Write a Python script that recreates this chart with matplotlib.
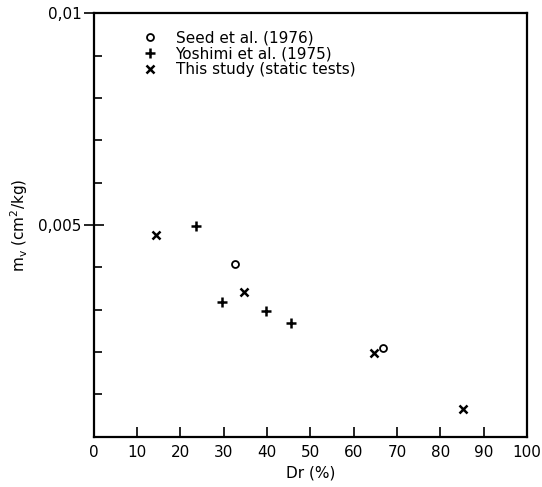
import matplotlib
matplotlib.use("Agg")
import matplotlib.pyplot as plt
from matplotlib.ticker import FixedLocator

# Seed et al. (1976)
seed_dr = [32.5, 66.9]
seed_mv = [0.00408, 0.00209]
# Yoshimi et al. (1975)
yosh_dr = [23.5, 29.5, 39.7, 45.5]
yosh_mv = [0.00498, 0.00319, 0.00298, 0.00268]
# This study (static tests)
this_dr = [14.3, 34.6, 64.6, 85.2]
this_mv = [0.00477, 0.00343, 0.00197, 0.00066]

x_ticks = list(range(0, 101, 10))
y_major = [0.005, 0.01]
y_major_labels = ["0,005", "0,01"]

fig = plt.figure(figsize=(5.42, 4.87), dpi=100)
ax = fig.add_axes([0.173, 0.103, 0.799, 0.870])

ax.plot(seed_dr, seed_mv, linestyle="none", marker="o", ms=5, mfc="white",
        mec="black", mew=1.3, label="Seed et al. (1976)")
ax.plot(yosh_dr, yosh_mv, linestyle="none", marker="+", ms=7, color="black",
        mew=1.8, label="Yoshimi et al. (1975)")
ax.plot(this_dr, this_mv, linestyle="none", marker="x", ms=5.5, color="black",
        mew=1.8, label="This study (static tests)")

ax.set_xlim(0, 100)
ax.set_ylim(0, 0.01)
ax.set_xticks(x_ticks)
ax.set_yticks(y_major)
ax.set_yticklabels(y_major_labels)
ax.yaxis.set_minor_locator(FixedLocator([i * 0.001 for i in range(1, 10) if i != 5]))

ax.tick_params(axis="x", direction="in", length=7, width=1.2, labelsize=11, pad=6)
ax.tick_params(axis="y", which="major", direction="inout", length=14, width=1.2,
               labelsize=11, pad=2)
ax.tick_params(axis="y", which="minor", direction="in", length=6, width=1.2)

for s in ax.spines.values():
    s.set_linewidth(1.6)

ax.set_xlabel("Dr (%)", fontsize=11, labelpad=4)
ax.set_ylabel("m$_\\mathregular{v}$ (cm$^\\mathregular{2}$/kg)", fontsize=11, labelpad=0)
ax.yaxis.set_label_coords(-0.148, 0.5)

ax.legend(loc="upper left", bbox_to_anchor=(0.09, 0.98), frameon=False,
          fontsize=11, handlelength=1.0, handletextpad=1.2, labelspacing=0.05,
          borderaxespad=0.2)

fig.savefig("out.png", dpi=100)
